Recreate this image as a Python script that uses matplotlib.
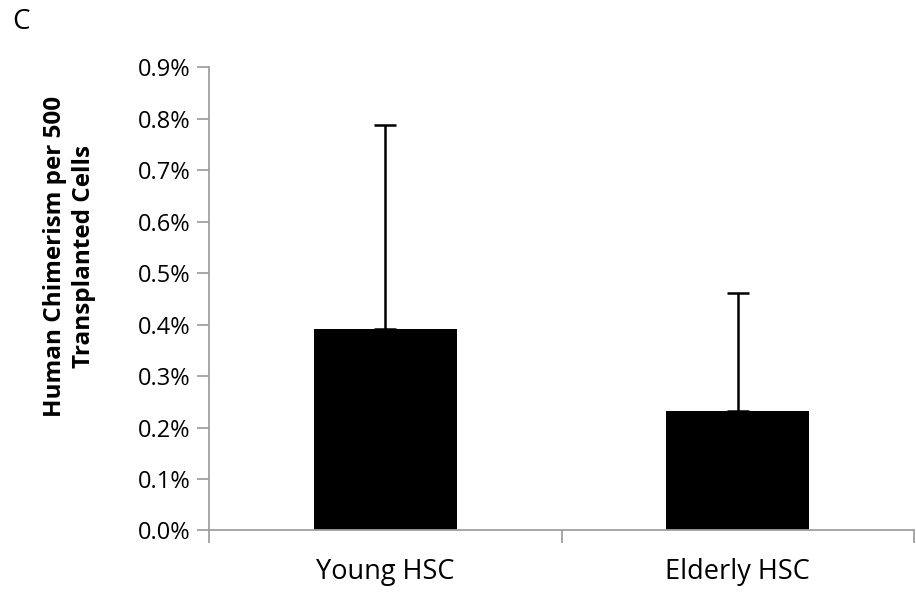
import matplotlib.pyplot as plt
from matplotlib.ticker import FuncFormatter, FixedLocator

groups = ['Young HSC', 'Elderly HSC']
chimerism = [0.391, 0.233]      # mean, %
err_upper = [0.397, 0.228]      # upper error, %

plt.rcParams['font.family'] = ['Open Sans', 'DejaVu Sans']

fig = plt.figure(figsize=(9.16, 5.92), dpi=100)
ax = fig.add_axes([0.228, 0.104, 0.770, 0.782])

x = range(len(groups))
ax.bar(x, chimerism, width=0.405, color='black', zorder=2)
ax.errorbar(x, chimerism, yerr=[[0, 0], err_upper], fmt='none', ecolor='black',
            elinewidth=1.8, capsize=8, capthick=1.8, zorder=3)

ax.set_xlim(-0.5, len(groups) - 0.5)
ax.set_ylim(0, 0.9)
ax.set_yticks([i / 10 for i in range(10)])
ax.yaxis.set_major_formatter(FuncFormatter(lambda v, p: f'{v:.1f}%'))

ax.set_xticks(list(x))
ax.set_xticklabels(groups)
ax.xaxis.set_minor_locator(FixedLocator([-0.5, 0.5, 1.5]))
ax.tick_params(axis='x', which='major', length=0, labelsize=19.5, pad=20)
ax.tick_params(axis='x', which='minor', length=9, width=1.3, color='#a0a0a0')
ax.tick_params(axis='y', length=9, width=1.3, color='#a0a0a0', labelsize=17, pad=4)

for s in ['top', 'right']:
    ax.spines[s].set_visible(False)
for s in ['left', 'bottom']:
    ax.spines[s].set_color('#a0a0a0')
    ax.spines[s].set_linewidth(1.3)

# axis title, two centred lines, sits a bit above the axes middle
fig.text(0.076, 0.566, 'Human Chimerism per 500\nTransplanted Cells', fontsize=17.5,
         fontweight='bold', rotation=90, ha='center', va='center',
         multialignment='center', linespacing=1.3)

fig.text(0.013, 0.962, 'C', fontsize=20, va='center')

fig.savefig('out.png', dpi=100)
